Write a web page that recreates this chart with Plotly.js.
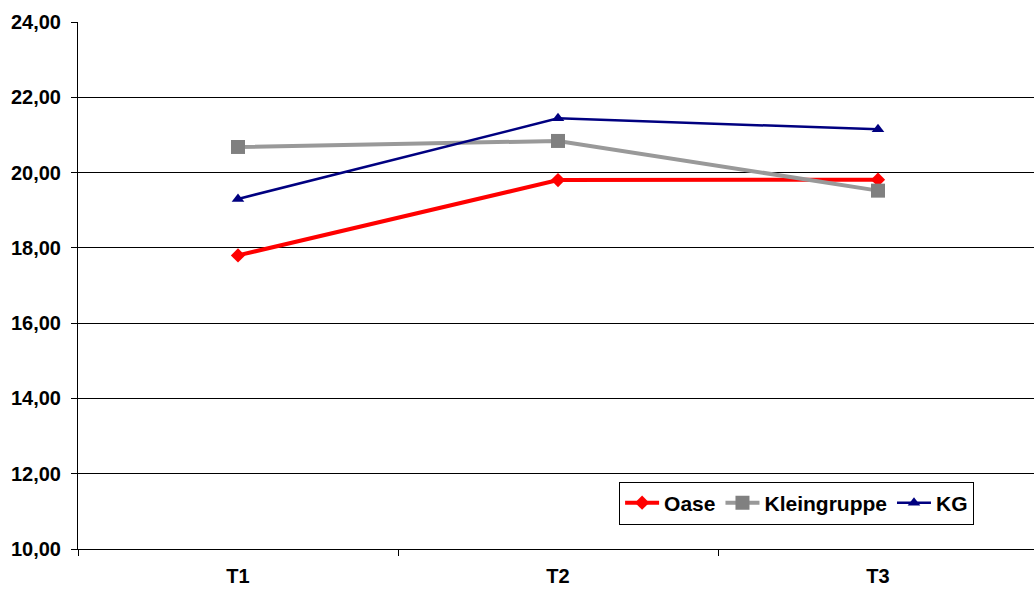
<!DOCTYPE html>
<html>
<head>
<meta charset="utf-8">
<script src="https://cdn.plot.ly/plotly-3.0.1.min.js"></script>
<style>html,body{margin:0;padding:0;background:#fff;}#chart{width:1034px;height:590px;}</style>
</head>
<body>
<div id="chart"></div>
<script>
const categories = ["T1", "T2", "T3"];
const oase = [17.80, 19.80, 19.81];
const kleingruppe = [20.68, 20.84, 19.52];
const kg = [19.30, 21.44, 21.15];
const yTicks = [10, 12, 14, 16, 18, 20, 22, 24];

const font = "Liberation Sans, Arial, sans-serif";

const traces = [
  {
    x: categories, y: oase, name: "Oase", type: "scatter", mode: "lines+markers",
    line: {color: "#FF0000", width: 4},
    marker: {symbol: "diamond", size: 11, color: "#FF0000"}
  },
  {
    x: categories, y: kleingruppe, name: "Kleingruppe", type: "scatter", mode: "lines+markers",
    line: {color: "#999999", width: 4},
    marker: {symbol: "square", size: 14, color: "#808080"}
  },
  {
    x: categories, y: kg, name: "KG", type: "scatter", mode: "lines+markers",
    line: {color: "#000080", width: 2.5},
    marker: {symbol: "triangle-up", size: 11, color: "#000080"}
  }
];

const layout = {
  width: 1034, height: 590,
  margin: {l: 78, r: 0, t: 22, b: 41},
  paper_bgcolor: "#ffffff", plot_bgcolor: "#ffffff",
  separators: ",.",
  showlegend: true,
  font: {family: font, color: "#000000"},
  xaxis: {
    type: "category",
    range: [-0.5, 2.4875],
    tickson: "boundaries",
    ticks: "outside", ticklen: 6, tickcolor: "#000", tickwidth: 1,
    ticklabelstandoff: 9,
    showgrid: false,
    showline: true, linecolor: "#000", linewidth: 1,
    tickfont: {family: font, size: 20, color: "#000", weight: "bold"},
    zeroline: false
  },
  yaxis: {
    range: [10, 24],
    tickvals: yTicks,
    tickformat: ".2f",
    ticks: "outside", ticklen: 6, tickcolor: "#000", tickwidth: 1,
    ticklabelstandoff: 6,
    showgrid: true, gridcolor: "#000000", gridwidth: 1,
    showline: true, linecolor: "#000", linewidth: 1,
    tickfont: {family: font, size: 20, color: "#000", weight: "bold"},
    zeroline: false
  },
  legend: {
    orientation: "h",
    x: 0.566, xanchor: "left",
    y: 0.128, yanchor: "top",
    bgcolor: "#ffffff",
    bordercolor: "#000000", borderwidth: 1,
    font: {family: font, size: 21, color: "#000", weight: "bold"},
    itemwidth: 34,
    tracegroupgap: 0
  }
};

Plotly.newPlot("chart", traces, layout, {displayModeBar: false, staticPlot: true});
</script>
</body>
</html>
